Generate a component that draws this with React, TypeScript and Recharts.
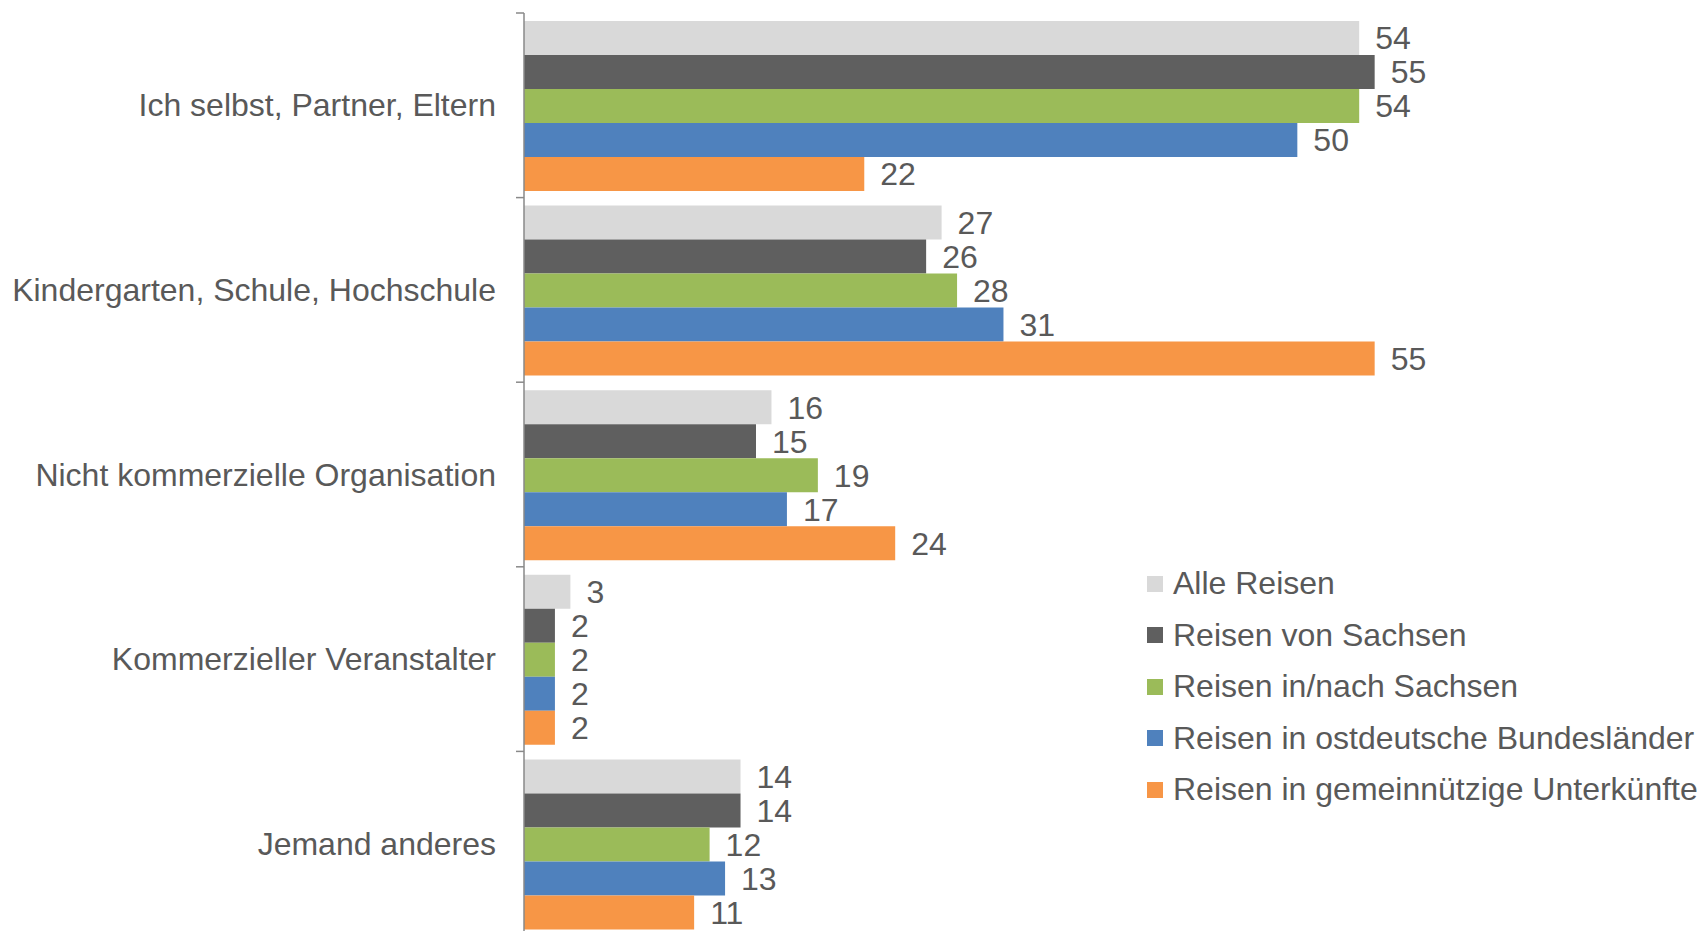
import React from 'react';
import { BarChart, Bar, XAxis, YAxis, LabelList, Legend } from 'recharts';

const CATEGORIES = [
  'Ich selbst, Partner, Eltern',
  'Kindergarten, Schule, Hochschule',
  'Nicht kommerzielle Organisation',
  'Kommerzieller Veranstalter',
  'Jemand anderes',
];

const SERIES_NAMES = [
  'Alle Reisen',
  'Reisen von Sachsen',
  'Reisen in/nach Sachsen',
  'Reisen in ostdeutsche Bundesländer',
  'Reisen in gemeinnützige Unterkünfte',
];

const ALLE_REISEN = [54, 27, 16, 3, 14];
const VON_SACHSEN = [55, 26, 15, 2, 14];
const NACH_SACHSEN = [54, 28, 19, 2, 12];
const OSTDEUTSCHE = [50, 31, 17, 2, 13];
const GEMEINNUETZIG = [22, 55, 24, 2, 11];

const SERIES_VALUES = [ALLE_REISEN, VON_SACHSEN, NACH_SACHSEN, OSTDEUTSCHE, GEMEINNUETZIG];
const COLORS = ['#D9D9D9', '#5F5F5F', '#9BBB59', '#4F81BD', '#F79646'];
const KEYS = ['s0', 's1', 's2', 's3', 's4'];

const data = CATEGORIES.map((c, i) => {
  const row: any = { name: c };
  SERIES_VALUES.forEach((vals, s) => {
    row[KEYS[s]] = vals[i];
  });
  return row;
});

const W = 1700;
const H = 936;
const MARGIN = { top: 13, right: 248, bottom: 0, left: 0 };
const AXIS_W = 524;
const PLOT_H = H - MARGIN.top - MARGIN.bottom;
const BAND = PLOT_H / CATEGORIES.length;
const TEXT_COLOR = '#595959';
const FONT = '"Liberation Sans", Arial, sans-serif';
const TICK_MARGIN = 28;
const TICK_LEN = 8;

function CatTick(props: any) {
  const { x, y, payload, index } = props;
  const ax = x + TICK_MARGIN;
  return (
    <g>
      <line x1={ax - TICK_LEN} x2={ax} y1={y - BAND / 2} y2={y - BAND / 2} stroke="#898989" strokeWidth={1.5} />
      {index === CATEGORIES.length - 1 && (
        <line x1={ax - TICK_LEN} x2={ax} y1={y + BAND / 2} y2={y + BAND / 2} stroke="#898989" strokeWidth={1.5} />
      )}
      <text x={x} y={y} textAnchor="end" dominantBaseline="central" fill={TEXT_COLOR} fontSize={32} fontFamily={FONT}>
        {payload.value}
      </text>
    </g>
  );
}

function LegendContent() {
  return (
    <div style={{ fontFamily: FONT, fontSize: 32, color: TEXT_COLOR }}>
      {SERIES_NAMES.map((n, i) => (
        <div key={n} style={{ height: 51.5, display: 'flex', alignItems: 'center', whiteSpace: 'nowrap' }}>
          <span style={{ display: 'inline-block', width: 16, height: 16, background: COLORS[i], marginRight: 10 }} />
          <span>{n}</span>
        </div>
      ))}
    </div>
  );
}

export default function App() {
  return (
    <div style={{ position: 'fixed', left: 0, top: 0, width: W, height: 931, overflow: 'hidden', background: '#fff' }}>
      <BarChart
        width={W}
        height={H}
        data={data}
        layout="vertical"
        margin={MARGIN}
        barCategoryGap={8}
        barGap={0}
      >
        <XAxis type="number" domain={[0, 60]} hide />
        <YAxis
          type="category"
          dataKey="name"
          width={AXIS_W}
          axisLine={{ stroke: '#898989', strokeWidth: 1.5 }}
          tickLine={false}
          tickSize={0}
          tickMargin={TICK_MARGIN}
          tick={<CatTick />}
          interval={0}
        />
        <Legend
          layout="vertical"
          align="center"
          verticalAlign="middle"
          content={<LegendContent />}
          wrapperStyle={{ position: 'absolute', left: 1147, top: 558, width: 560 }}
        />
        {KEYS.map((k, i) => (
          <Bar key={k} dataKey={k} name={SERIES_NAMES[i]} fill={COLORS[i]} isAnimationActive={false}>
            <LabelList
              dataKey={k}
              position="right"
              offset={16}
              fill={TEXT_COLOR}
              fontSize={32}
              fontFamily={FONT}
            />
          </Bar>
        ))}
      </BarChart>
    </div>
  );
}
